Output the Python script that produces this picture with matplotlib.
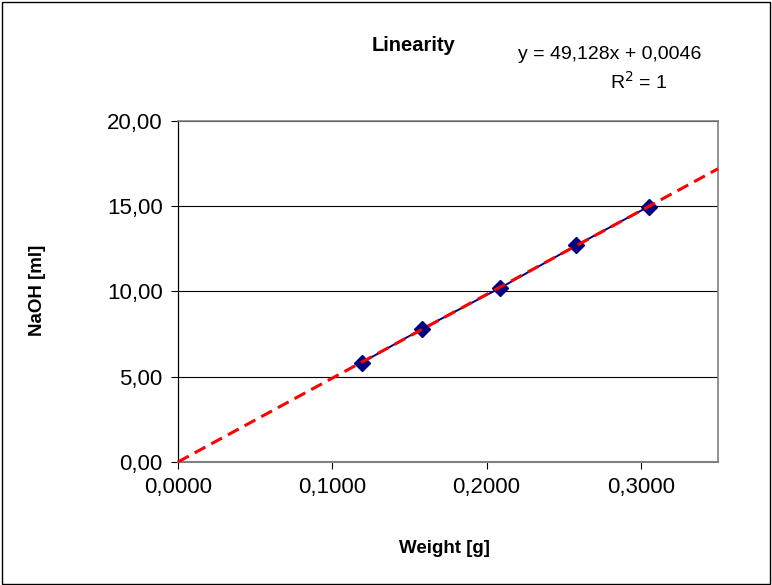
import matplotlib
matplotlib.use("Agg")
import matplotlib.pyplot as plt
from matplotlib.patches import Rectangle
from matplotlib.ticker import FuncFormatter
import numpy as np

plt.rcParams['font.family'] = ['Liberation Sans', 'DejaVu Sans']

weight = [0.119, 0.158, 0.209, 0.258, 0.305]
naoh = [5.82, 7.80, 10.22, 12.70, 14.98]
slope = 49.128
intercept = 0.0046
x_ticks = [0.0, 0.1, 0.2, 0.3]
y_ticks = [0, 5, 10, 15, 20]

fig = plt.figure(figsize=(7.72, 5.85), dpi=100)
fig.patches.append(Rectangle((0.002, 0.002), 0.995, 0.994, transform=fig.transFigure,
                             fill=False, edgecolor='black', linewidth=1.0))

ax = fig.add_axes([178 / 772, 1 - 462 / 585, 540 / 772, 341 / 585])
ax.set_xlim(0, 0.35)
ax.set_ylim(0, 20)

ax.set_yticks(y_ticks)
ax.set_xticks(x_ticks)
ax.yaxis.set_major_formatter(FuncFormatter(lambda v, p: f"{v:.2f}".replace('.', ',')))
ax.xaxis.set_major_formatter(FuncFormatter(lambda v, p: f"{v:.4f}".replace('.', ',')))
ax.tick_params(axis='both', labelsize=16, length=5, width=0.8, color='black', direction='out', pad=6)

ax.grid(axis='y', color='black', linewidth=0.8)
ax.set_axisbelow(True)
for side in ['top', 'right']:
    ax.spines[side].set_color('#808080')
    ax.spines[side].set_linewidth(1.2)
ax.spines['left'].set_color('black')
ax.spines['left'].set_linewidth(0.9)
ax.spines['bottom'].set_color('#808080')
ax.spines['bottom'].set_linewidth(1.5)

ax.plot(weight, naoh, color='#000080', linewidth=1.4, marker='D', markersize=8,
        markerfacecolor='#000080', markeredgecolor='#000080', zorder=3)

xt = np.array([0.0, 0.35])
ax.plot(xt, slope * xt + intercept, color='#FF0000', linewidth=2.2,
        linestyle=(0, (4, 2.2)), zorder=4, clip_on=False)

fig.text(0.535, 0.922, 'Linearity', ha='center', va='center', fontsize=14.5, fontweight='bold')
fig.text(0.790, 0.906, 'y = 49,128x + 0,0046', ha='center', va='center', fontsize=14)
fig.text(0.828, 0.860, r'R$^{2}$ = 1', ha='center', va='center', fontsize=14)
fig.text(0.048, 0.503, 'NaOH [ml]', ha='center', va='center', rotation=90, fontsize=13.5, fontweight='bold')
fig.text(0.576, 0.062, 'Weight [g]', ha='center', va='center', fontsize=13.5, fontweight='bold')

fig.savefig('out.png', dpi=100)
